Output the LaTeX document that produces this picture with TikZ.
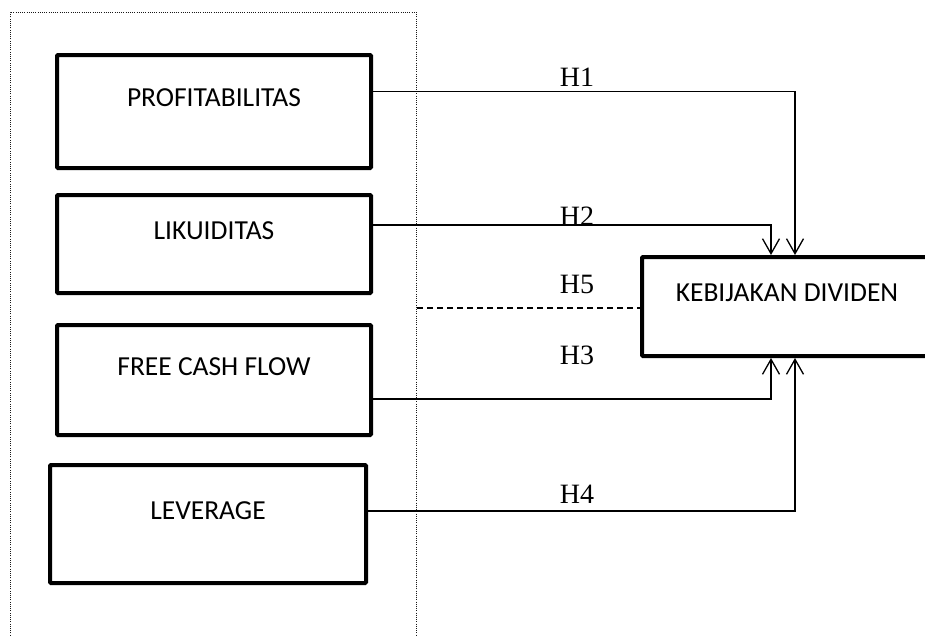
\documentclass[tikz,border=0pt]{standalone}
\usepackage{fontspec}
\setmainfont{Carlito}
\newfontfamily\hfont{Liberation Serif}
\usetikzlibrary{arrows.meta}

\begin{document}
\begin{tikzpicture}[x=1pt, y=-1pt, thick,
	main/.style = {draw, line width=4pt, rounded corners=1pt, font=\fontsize{27.5}{32}\selectfont, text height=19pt, text depth=29pt},
	hyp/.style = {font=\hfont\fontsize{28}{32}\selectfont, inner sep=0pt},
	conn/.style = {line width=1.3pt, -{Straight Barb[length=15pt, width=17pt]}},
	frame/.style = {draw=black!90, line width=1pt, dash pattern=on 1pt off 1.2pt}]
		\useasboundingbox (0,0) rectangle (925,635);
		\clip (0,0) rectangle (925,635);
		\draw[frame] (10,640) -- (10,12) -- (416,12) -- (416,640);
		
		\node[main, minimum width=314pt, minimum height=113pt] (1) at (214,111.5) {PROFITABILITAS};
		\node[main, minimum width=314pt, minimum height=98pt] (2) at (214,244) {LIKUIDITAS};
		\node[main, minimum width=314pt, minimum height=110pt] (3) at (214,380) {FREE CASH FLOW};
		\node[main, minimum width=316pt, minimum height=118pt] (4) at (208,524) {LEVERAGE};
		\node[main, minimum width=290pt, minimum height=99pt] (5) at (787,306.5) {KEBIJAKAN DIVIDEN};
		
		\node[hyp] (h1) at (577,77) {H1};
		\node[hyp] (h2) at (577,216) {H2};
		\node[hyp] (h5) at (577,284) {H5};
		\node[hyp] (h3) at (577,355) {H3};
		\node[hyp] (h4) at (577,494) {H4};
		\coordinate (h5s) at (417,308);
		
		\draw[conn] ([yshift=20pt]1.east) -| ([xshift=8pt]5.north);
		\draw[conn] ([yshift=19pt]2.east) -| ([xshift=-16pt]5.north);
		\draw[conn] ([yshift=-19pt]3.east) -| ([xshift=-16pt]5.south);
		\draw[conn] ([yshift=13pt]4.east) -| ([xshift=8pt]5.south);
		\draw[line width=1.3pt, dash pattern=on 6pt off 4pt] (h5s) -- (5.west |- h5s);
	\end{tikzpicture}
\end{document}
